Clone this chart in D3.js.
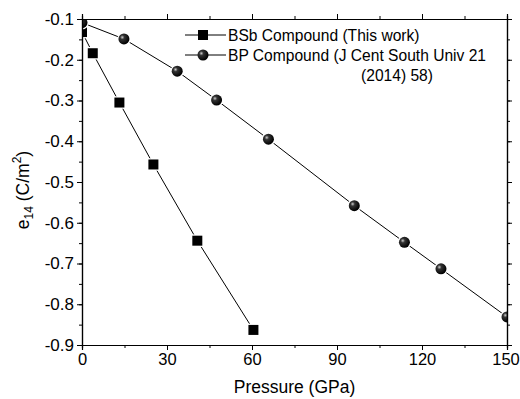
<!DOCTYPE html>
<html>
<head>
<meta charset="utf-8">
<script src="https://cdn.jsdelivr.net/npm/d3@7"></script>
<style>
  body { margin: 0; background: #fff; }
  text { font-family: "Liberation Sans", Arial, sans-serif; }
</style>
</head>
<body>
<svg id="drawing_region"></svg>
<script>
// BSb compound (this work)
var bsbPressure = [0, 3.8, 13.2, 25.2, 40.7, 60.5];
var bsbE14 = [-0.132, -0.184, -0.305, -0.457, -0.644, -0.863];
// BP compound (J Cent South Univ 21 (2014) 58)
var bpPressure = [0, 14.8, 33.6, 47.5, 65.8, 96.1, 113.8, 126.7, 150];
var bpE14 = [-0.109, -0.149, -0.228, -0.299, -0.395, -0.558, -0.648, -0.713, -0.831];

var xTicks = [0, 30, 60, 90, 120, 150];
var yTicks = [-0.1, -0.2, -0.3, -0.4, -0.5, -0.6, -0.7, -0.8, -0.9];
var legendLabels = ['BSb Compound (This work)', 'BP Compound (J Cent South Univ 21', '(2014) 58)'];

var width = 520, height = 399;
var margin = {top: 19, right: 13, bottom: 54, left: 82};
var w = width - margin.left - margin.right;
var h = height - margin.top - margin.bottom;

var svg = d3.select('#drawing_region')
    .attr('width', width)
    .attr('height', height);

var defs = svg.append('defs');
var grad = defs.append('radialGradient')
    .attr('id', 'ball')
    .attr('cx', '35%').attr('cy', '35%').attr('r', '65%');
grad.append('stop').attr('offset', '0%').attr('stop-color', '#ccc');
grad.append('stop').attr('offset', '30%').attr('stop-color', '#333');
grad.append('stop').attr('offset', '100%').attr('stop-color', '#000');

defs.append('clipPath').attr('id', 'plotclip')
    .append('rect').attr('width', w).attr('height', h);

var chart = svg.append('g')
    .attr('transform', `translate(${margin.left}, ${margin.top})`);

var x = d3.scaleLinear().domain([0, 150]).range([0, w]);
var y = d3.scaleLinear().domain([-0.9, -0.1]).range([h, 0]);

var minorX = d3.range(0, 151, 15);
var minorY = d3.range(-0.9, -0.0999, 0.05);

// data
var bsb = bsbPressure.map((p, i) => ({p: p, v: bsbE14[i]}));
var bp = bpPressure.map((p, i) => ({p: p, v: bpE14[i]}));

var line = d3.line().x(d => x(d.p)).y(d => y(d.v));

var plot = chart.append('g').attr('clip-path', 'url(#plotclip)');

plot.append('path').datum(bsb)
    .attr('d', line).attr('fill', 'none').attr('stroke', '#000').attr('stroke-width', 1);
plot.append('path').datum(bp)
    .attr('d', line).attr('fill', 'none').attr('stroke', '#000').attr('stroke-width', 1);

// white halo so lines stop short of markers
plot.selectAll('.sq').data(bsb).enter().append('rect')
    .attr('x', d => x(d.p) - 5)
    .attr('y', d => y(d.v) - 5)
    .attr('width', 10).attr('height', 10)
    .attr('fill', '#000')
    .attr('stroke', '#fff').attr('stroke-width', 2.5);
plot.selectAll('.sq2').data(bsb).enter().append('rect')
    .attr('x', d => x(d.p) - 5)
    .attr('y', d => y(d.v) - 5)
    .attr('width', 10).attr('height', 10)
    .attr('fill', '#000');

plot.selectAll('.ball').data(bp).enter().append('circle')
    .attr('cx', d => x(d.p))
    .attr('cy', d => y(d.v))
    .attr('r', 5.5)
    .attr('fill', 'url(#ball)')
    .attr('stroke', '#fff').attr('stroke-width', 2.5);
plot.selectAll('.ball2').data(bp).enter().append('circle')
    .attr('cx', d => x(d.p))
    .attr('cy', d => y(d.v))
    .attr('r', 5.5)
    .attr('fill', 'url(#ball)');

function styleAxis(g) {
  g.selectAll('path').attr('stroke', '#000').attr('stroke-width', 1.2);
  g.selectAll('line').attr('stroke', '#000').attr('stroke-width', 1);
  g.selectAll('text').attr('font-size', 17).attr('fill', '#000');
}

// minor ticks
chart.append('g').attr('transform', `translate(0, ${h})`)
    .call(d3.axisBottom(x).tickValues(minorX).tickSize(3).tickFormat(''))
    .call(styleAxis);
chart.append('g')
    .call(d3.axisTop(x).tickValues(minorX).tickSize(3).tickFormat(''))
    .call(styleAxis);
chart.append('g')
    .call(d3.axisLeft(y).tickValues(minorY).tickSize(3).tickFormat(''))
    .call(styleAxis);
chart.append('g').attr('transform', `translate(${w}, 0)`)
    .call(d3.axisRight(y).tickValues(minorY).tickSize(3).tickFormat(''))
    .call(styleAxis);

// major ticks
var xAxisG = chart.append('g').attr('transform', `translate(0, ${h})`)
    .call(d3.axisBottom(x).tickValues(xTicks).tickSize(5).tickPadding(3).tickFormat(d3.format('d')))
    .call(styleAxis);
xAxisG.selectAll('text').attr('font-size', 16.5);
xAxisG.selectAll('text').filter(d => d === 150).attr('dx', -1.5);

chart.append('g')
    .call(d3.axisLeft(y).tickValues(yTicks).tickSize(5).tickPadding(3).tickFormat(d => d.toFixed(1)))
    .call(styleAxis);
chart.append('g')
    .call(d3.axisTop(x).tickValues(xTicks).tickSize(5).tickFormat(''))
    .call(styleAxis);
chart.append('g').attr('transform', `translate(${w}, 0)`)
    .call(d3.axisRight(y).tickValues(yTicks).tickSize(5).tickFormat(''))
    .call(styleAxis);

// axis titles
svg.append('text')
    .attr('x', margin.left + w / 2)
    .attr('y', 393)
    .attr('text-anchor', 'middle')
    .attr('font-size', 17.5)
    .text('Pressure (GPa)');

var yt = svg.append('text')
    .attr('transform', `translate(29, 190) rotate(-90)`)
    .attr('text-anchor', 'middle')
    .attr('font-size', 17.5);
yt.append('tspan').text('e');
yt.append('tspan').attr('font-size', 12).attr('dy', 4).text('14');
yt.append('tspan').attr('dy', -4).text(' (C/m');
yt.append('tspan').attr('font-size', 12).attr('dy', -8).text('2');
yt.append('tspan').attr('dy', 8).text(')');

// legend
var legend = svg.append('g').attr('transform', 'translate(185, 35)');
legend.append('line').attr('x1', 0).attr('x2', 41).attr('y1', 0).attr('y2', 0)
    .attr('stroke', '#000');
legend.append('rect').attr('x', 13).attr('y', -5).attr('width', 10).attr('height', 10).attr('fill', '#000');
legend.append('text').attr('x', 43).attr('y', 6).attr('font-size', 15.6).text(legendLabels[0]);

legend.append('line').attr('x1', 0).attr('x2', 41).attr('y1', 20).attr('y2', 20)
    .attr('stroke', '#000');
legend.append('circle').attr('cx', 18).attr('cy', 20).attr('r', 5.5).attr('fill', 'url(#ball)');
legend.append('text').attr('x', 43).attr('y', 26).attr('font-size', 15.6).text(legendLabels[1]);
legend.append('text').attr('x', 212).attr('y', 46).attr('text-anchor', 'middle')
    .attr('font-size', 15.6).text(legendLabels[2]);
</script>
</body>
</html>
